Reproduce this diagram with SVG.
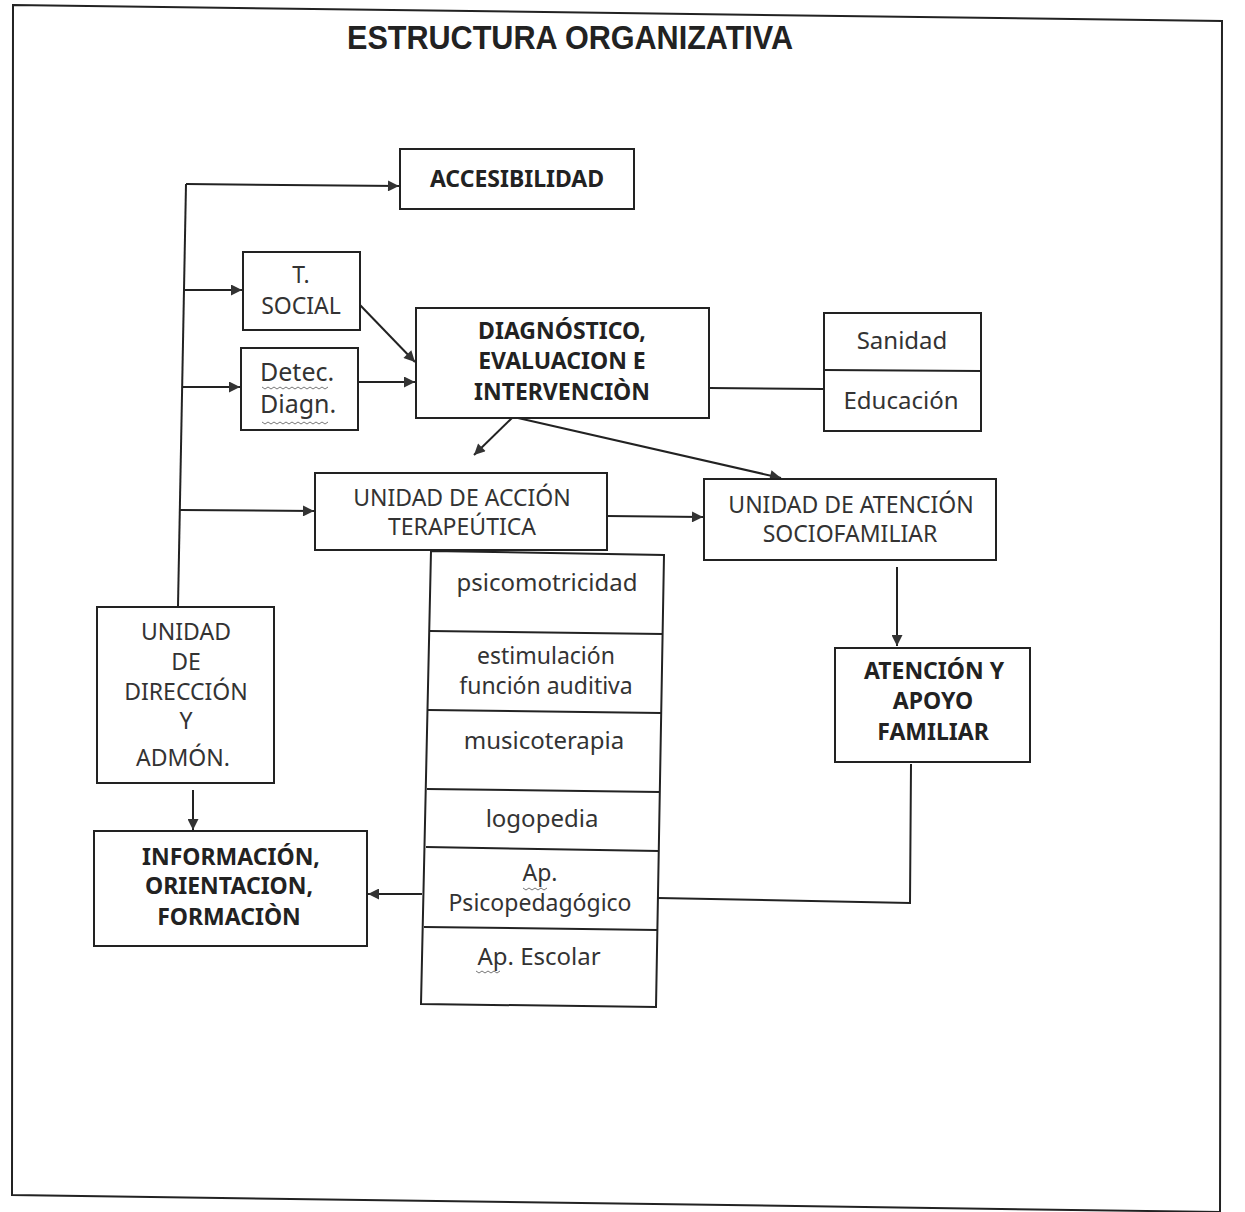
<svg xmlns="http://www.w3.org/2000/svg" width="1245" height="1212" viewBox="0 0 1245 1212">
<defs>
<marker id="arr" viewBox="0 0 10 10" refX="10" refY="5" markerWidth="14" markerHeight="11" markerUnits="userSpaceOnUse" orient="auto">
<path d="M0,0 L10,5 L0,10 z" fill="#333"/>
</marker>
<style>
.box{fill:#fff;stroke:#222;stroke-width:2}
.div{stroke:#222;stroke-width:2;fill:none}
.ln{stroke:#222;stroke-width:2;fill:none}
.ar{stroke:#222;stroke-width:2;fill:none;marker-end:url(#arr)}
.t{font-family:"Noto Sans","Open Sans","DejaVu Sans",sans-serif;font-size:24px;fill:#333;text-anchor:middle}
.c{font-size:23px}
.b{font-family:"Noto Sans","Open Sans","DejaVu Sans",sans-serif;font-size:23px;font-weight:bold;fill:#222;text-anchor:middle}
.s{text-anchor:start;font-size:25px}
.sq{stroke:#777;stroke-width:1;fill:none}
</style>
</defs>
<rect width="1245" height="1212" fill="#fff"/>
<polygon points="13,5 1222,21 1220,1212 12,1195" fill="none" stroke="#222" stroke-width="2"/>
<text x="570" y="49" font-family="'Liberation Sans',Arial,sans-serif" font-size="34" font-weight="bold" fill="#222" text-anchor="middle" textLength="446" lengthAdjust="spacingAndGlyphs">ESTRUCTURA ORGANIZATIVA</text>

<g id="connectors">
<line class="ln" x1="178" y1="606" x2="186" y2="184"/>
<line class="ar" x1="186" y1="184" x2="399" y2="186"/>
<line class="ar" x1="184" y1="290" x2="242" y2="290"/>
<line class="ar" x1="182" y1="387" x2="240" y2="387"/>
<line class="ar" x1="180" y1="510" x2="314" y2="511"/>
<line class="ar" x1="360" y1="305" x2="415" y2="362"/>
<line class="ar" x1="358" y1="382" x2="415" y2="382"/>
<line class="ln" x1="709" y1="388" x2="823" y2="389"/>
<line class="ar" x1="512" y1="418" x2="474" y2="455"/>
<line class="ar" x1="518" y1="418" x2="781" y2="478"/>
<line class="ar" x1="607" y1="516" x2="703" y2="517"/>
<line class="ar" x1="897" y1="567" x2="897" y2="646"/>
<line class="ar" x1="193" y1="790" x2="193" y2="830"/>
<line class="ar" x1="422" y1="894" x2="368" y2="894"/>
<polyline class="ln" points="911,764 910,903 658,898"/>
</g>

<g id="accesibilidad">
<rect class="box" x="400" y="149" width="234" height="60"/>
<text class="b" x="517" y="187">ACCESIBILIDAD</text>
</g>

<g id="tsocial">
<rect class="box" x="243" y="252" width="117" height="78"/>
<text class="t c" x="301" y="283">T.</text>
<text class="t c" x="301" y="314">SOCIAL</text>
</g>

<g id="detec">
<rect class="box" x="241" y="348" width="117" height="82"/>
<text class="t s" x="260" y="381">Detec.</text>
<text class="t s" x="260" y="413">Diagn.</text>
<path class="sq" d="M262,387 l3,2 l3,-2 l3,2 l3,-2 l3,2 l3,-2 l3,2 l3,-2 l3,2 l3,-2 l3,2 l3,-2 l3,2 l3,-2 l3,2 l3,-2 l3,2 l3,-2 l3,2 l3,-2 l3,2 l3,-2"/>
<path class="sq" d="M262,422 l3,2 l3,-2 l3,2 l3,-2 l3,2 l3,-2 l3,2 l3,-2 l3,2 l3,-2 l3,2 l3,-2 l3,2 l3,-2 l3,2 l3,-2 l3,2 l3,-2 l3,2 l3,-2 l3,2 l3,-2"/>
</g>

<g id="diagnostico">
<rect class="box" x="416" y="308" width="293" height="110"/>
<text class="b" x="562" y="339">DIAGNÓSTICO,</text>
<text class="b" x="562" y="369">EVALUACION E</text>
<text class="b" x="562" y="400">INTERVENCIÒN</text>
</g>

<g id="sanidad">
<rect class="box" x="824" y="313" width="157" height="118"/>
<line class="div" x1="824" y1="370" x2="981" y2="371"/>
<text class="t" x="902" y="349">Sanidad</text>
<text class="t" x="901" y="409">Educación</text>
</g>

<g id="accion">
<rect class="box" x="315" y="473" width="292" height="77"/>
<text class="t c" x="462" y="506">UNIDAD DE ACCIÓN</text>
<text class="t c" x="462" y="535">TERAPEÚTICA</text>
</g>

<g id="sociofamiliar">
<rect class="box" x="704" y="479" width="292" height="81"/>
<text class="t c" x="851" y="513">UNIDAD DE ATENCIÓN</text>
<text class="t c" x="850" y="542">SOCIOFAMILIAR</text>
</g>

<g id="apoyo">
<rect class="box" x="835" y="648" width="195" height="114"/>
<text class="b" x="934" y="679">ATENCIÓN Y</text>
<text class="b" x="933" y="709">APOYO</text>
<text class="b" x="933" y="740">FAMILIAR</text>
</g>

<g id="terapias">
<polygon class="box" points="431,551 664,555 656,1007 421,1004"/>
<line class="div" x1="430" y1="631" x2="663" y2="634"/>
<line class="div" x1="428" y1="710" x2="661" y2="713"/>
<line class="div" x1="427" y1="789" x2="660" y2="792"/>
<line class="div" x1="426" y1="847" x2="659" y2="851"/>
<line class="div" x1="424" y1="927" x2="657" y2="930"/>
<text class="t" x="547" y="591">psicomotricidad</text>
<text class="t c" x="546" y="664">estimulación</text>
<text class="t c" x="546" y="694">función auditiva</text>
<text class="t" x="544" y="749">musicoterapia</text>
<text class="t" x="542" y="827">logopedia</text>
<text class="t c" x="540" y="881">Ap.</text>
<text class="t c" x="540" y="911">Psicopedagógico</text>
<text class="t" x="539" y="965">Ap. Escolar</text>
<path class="sq" d="M523,888 l3,2 l3,-2 l3,2 l3,-2 l3,2 l3,-2 l3,2 l3,-2"/>
<path class="sq" d="M476,971 l3,2 l3,-2 l3,2 l3,-2 l3,2 l3,-2 l3,2 l3,-2"/>
</g>

<g id="direccion">
<rect class="box" x="97" y="607" width="177" height="176"/>
<text class="t c" x="186" y="640">UNIDAD</text>
<text class="t c" x="186" y="670">DE</text>
<text class="t c" x="186" y="700">DIRECCIÓN</text>
<text class="t c" x="186" y="729">Y</text>
<text class="t c" x="183" y="766">ADMÓN.</text>
</g>

<g id="informacion">
<rect class="box" x="94" y="831" width="273" height="115"/>
<text class="b" x="231" y="865">INFORMACIÓN,</text>
<text class="b" x="229" y="894">ORIENTACION,</text>
<text class="b" x="229" y="925">FORMACIÒN</text>
</g>
</svg>
